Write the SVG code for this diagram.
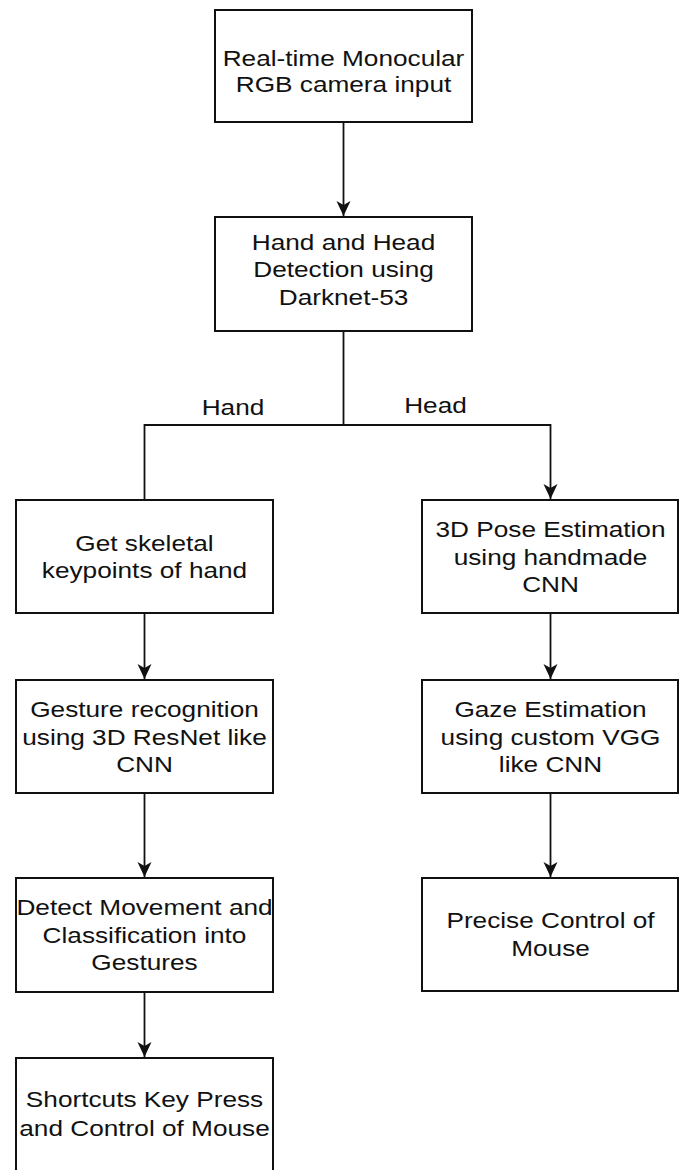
<svg xmlns="http://www.w3.org/2000/svg" width="683" height="1170" viewBox="0 0 683 1170">
<style>
.box{fill:#fff;stroke:#111;stroke-width:2}
.ln{fill:none;stroke:#111;stroke-width:1.8}
.t{font-family:"Liberation Sans",Arial,sans-serif;font-size:22.5px;fill:#111;text-anchor:middle}
</style>
<defs>
<marker id="arr" viewBox="-17 -9 19 18" refX="0" refY="0" markerWidth="19" markerHeight="18" markerUnits="userSpaceOnUse" orient="auto">
<path d="M0,0 L-15,-7 L-11,0 L-15,7 Z" fill="#111"/>
</marker>
</defs>
<rect width="683" height="1170" fill="#fff"/>
<g id="connectors">
<line class="ln" x1="343.5" y1="122" x2="343.5" y2="216" marker-end="url(#arr)"/>
<polyline class="ln" points="343.5,331 343.5,425 144.5,425 144.5,500"/>
<polyline class="ln" points="343.5,425 550.5,425 550.5,499" marker-end="url(#arr)"/>
<line class="ln" x1="144.5" y1="613" x2="144.5" y2="679" marker-end="url(#arr)"/>
<line class="ln" x1="144.5" y1="793" x2="144.5" y2="877" marker-end="url(#arr)"/>
<line class="ln" x1="144.5" y1="992" x2="144.5" y2="1057" marker-end="url(#arr)"/>
<line class="ln" x1="550.5" y1="613" x2="550.5" y2="679" marker-end="url(#arr)"/>
<line class="ln" x1="550.5" y1="793" x2="550.5" y2="877" marker-end="url(#arr)"/>
<text class="t" transform="translate(233,0) scale(1.165,1)" x="0" y="415">Hand</text>
<text class="t" transform="translate(435.5,0) scale(1.165,1)" x="0" y="413">Head</text>
</g>
<g id="n1">
<rect class="box" x="215" y="10" width="257" height="112"/>
<text class="t" transform="translate(343.5,0) scale(1.165,1)"><tspan x="0" y="66.5">Real-time Monocular</tspan><tspan x="0" y="92.5">RGB camera input</tspan></text>
</g>
<g id="n2">
<rect class="box" x="215" y="217" width="257" height="114"/>
<text class="t" transform="translate(343.5,0) scale(1.165,1)"><tspan x="0" y="250">Hand and Head</tspan><tspan x="0" y="277.5">Detection using</tspan><tspan x="0" y="305">Darknet-53</tspan></text>
</g>
<g id="n3">
<rect class="box" x="16" y="500" width="257" height="113"/>
<text class="t" transform="translate(144.5,0) scale(1.165,1)"><tspan x="0" y="551">Get skeletal</tspan><tspan x="0" y="578">keypoints of hand</tspan></text>
</g>
<g id="n4">
<rect class="box" x="422" y="500" width="256" height="113"/>
<text class="t" transform="translate(550.5,0) scale(1.165,1)"><tspan x="0" y="537.5">3D Pose Estimation</tspan><tspan x="0" y="565">using handmade</tspan><tspan x="0" y="592.5">CNN</tspan></text>
</g>
<g id="n5">
<rect class="box" x="16" y="680" width="257" height="113"/>
<text class="t" transform="translate(144.5,0) scale(1.165,1)"><tspan x="0" y="717.5">Gesture recognition</tspan><tspan x="0" y="745">using 3D ResNet like</tspan><tspan x="0" y="772">CNN</tspan></text>
</g>
<g id="n6">
<rect class="box" x="422" y="680" width="256" height="113"/>
<text class="t" transform="translate(550.5,0) scale(1.165,1)"><tspan x="0" y="717.5">Gaze Estimation</tspan><tspan x="0" y="745">using custom VGG</tspan><tspan x="0" y="772">like CNN</tspan></text>
</g>
<g id="n7">
<rect class="box" x="16" y="878" width="257" height="114"/>
<text class="t" transform="translate(144.5,0) scale(1.165,1)"><tspan x="0" y="915.5">Detect Movement and</tspan><tspan x="0" y="943">Classification into</tspan><tspan x="0" y="970.5">Gestures</tspan></text>
</g>
<g id="n8">
<rect class="box" x="422" y="878" width="256" height="113"/>
<text class="t" transform="translate(550.5,0) scale(1.165,1)"><tspan x="0" y="928.5">Precise Control of</tspan><tspan x="0" y="956">Mouse</tspan></text>
</g>
<g id="n9">
<rect class="box" x="16" y="1058" width="257" height="114"/>
<text class="t" transform="translate(144.5,0) scale(1.165,1)"><tspan x="0" y="1107.5">Shortcuts Key Press</tspan><tspan x="0" y="1136">and Control of Mouse</tspan></text>
</g>
</svg>
